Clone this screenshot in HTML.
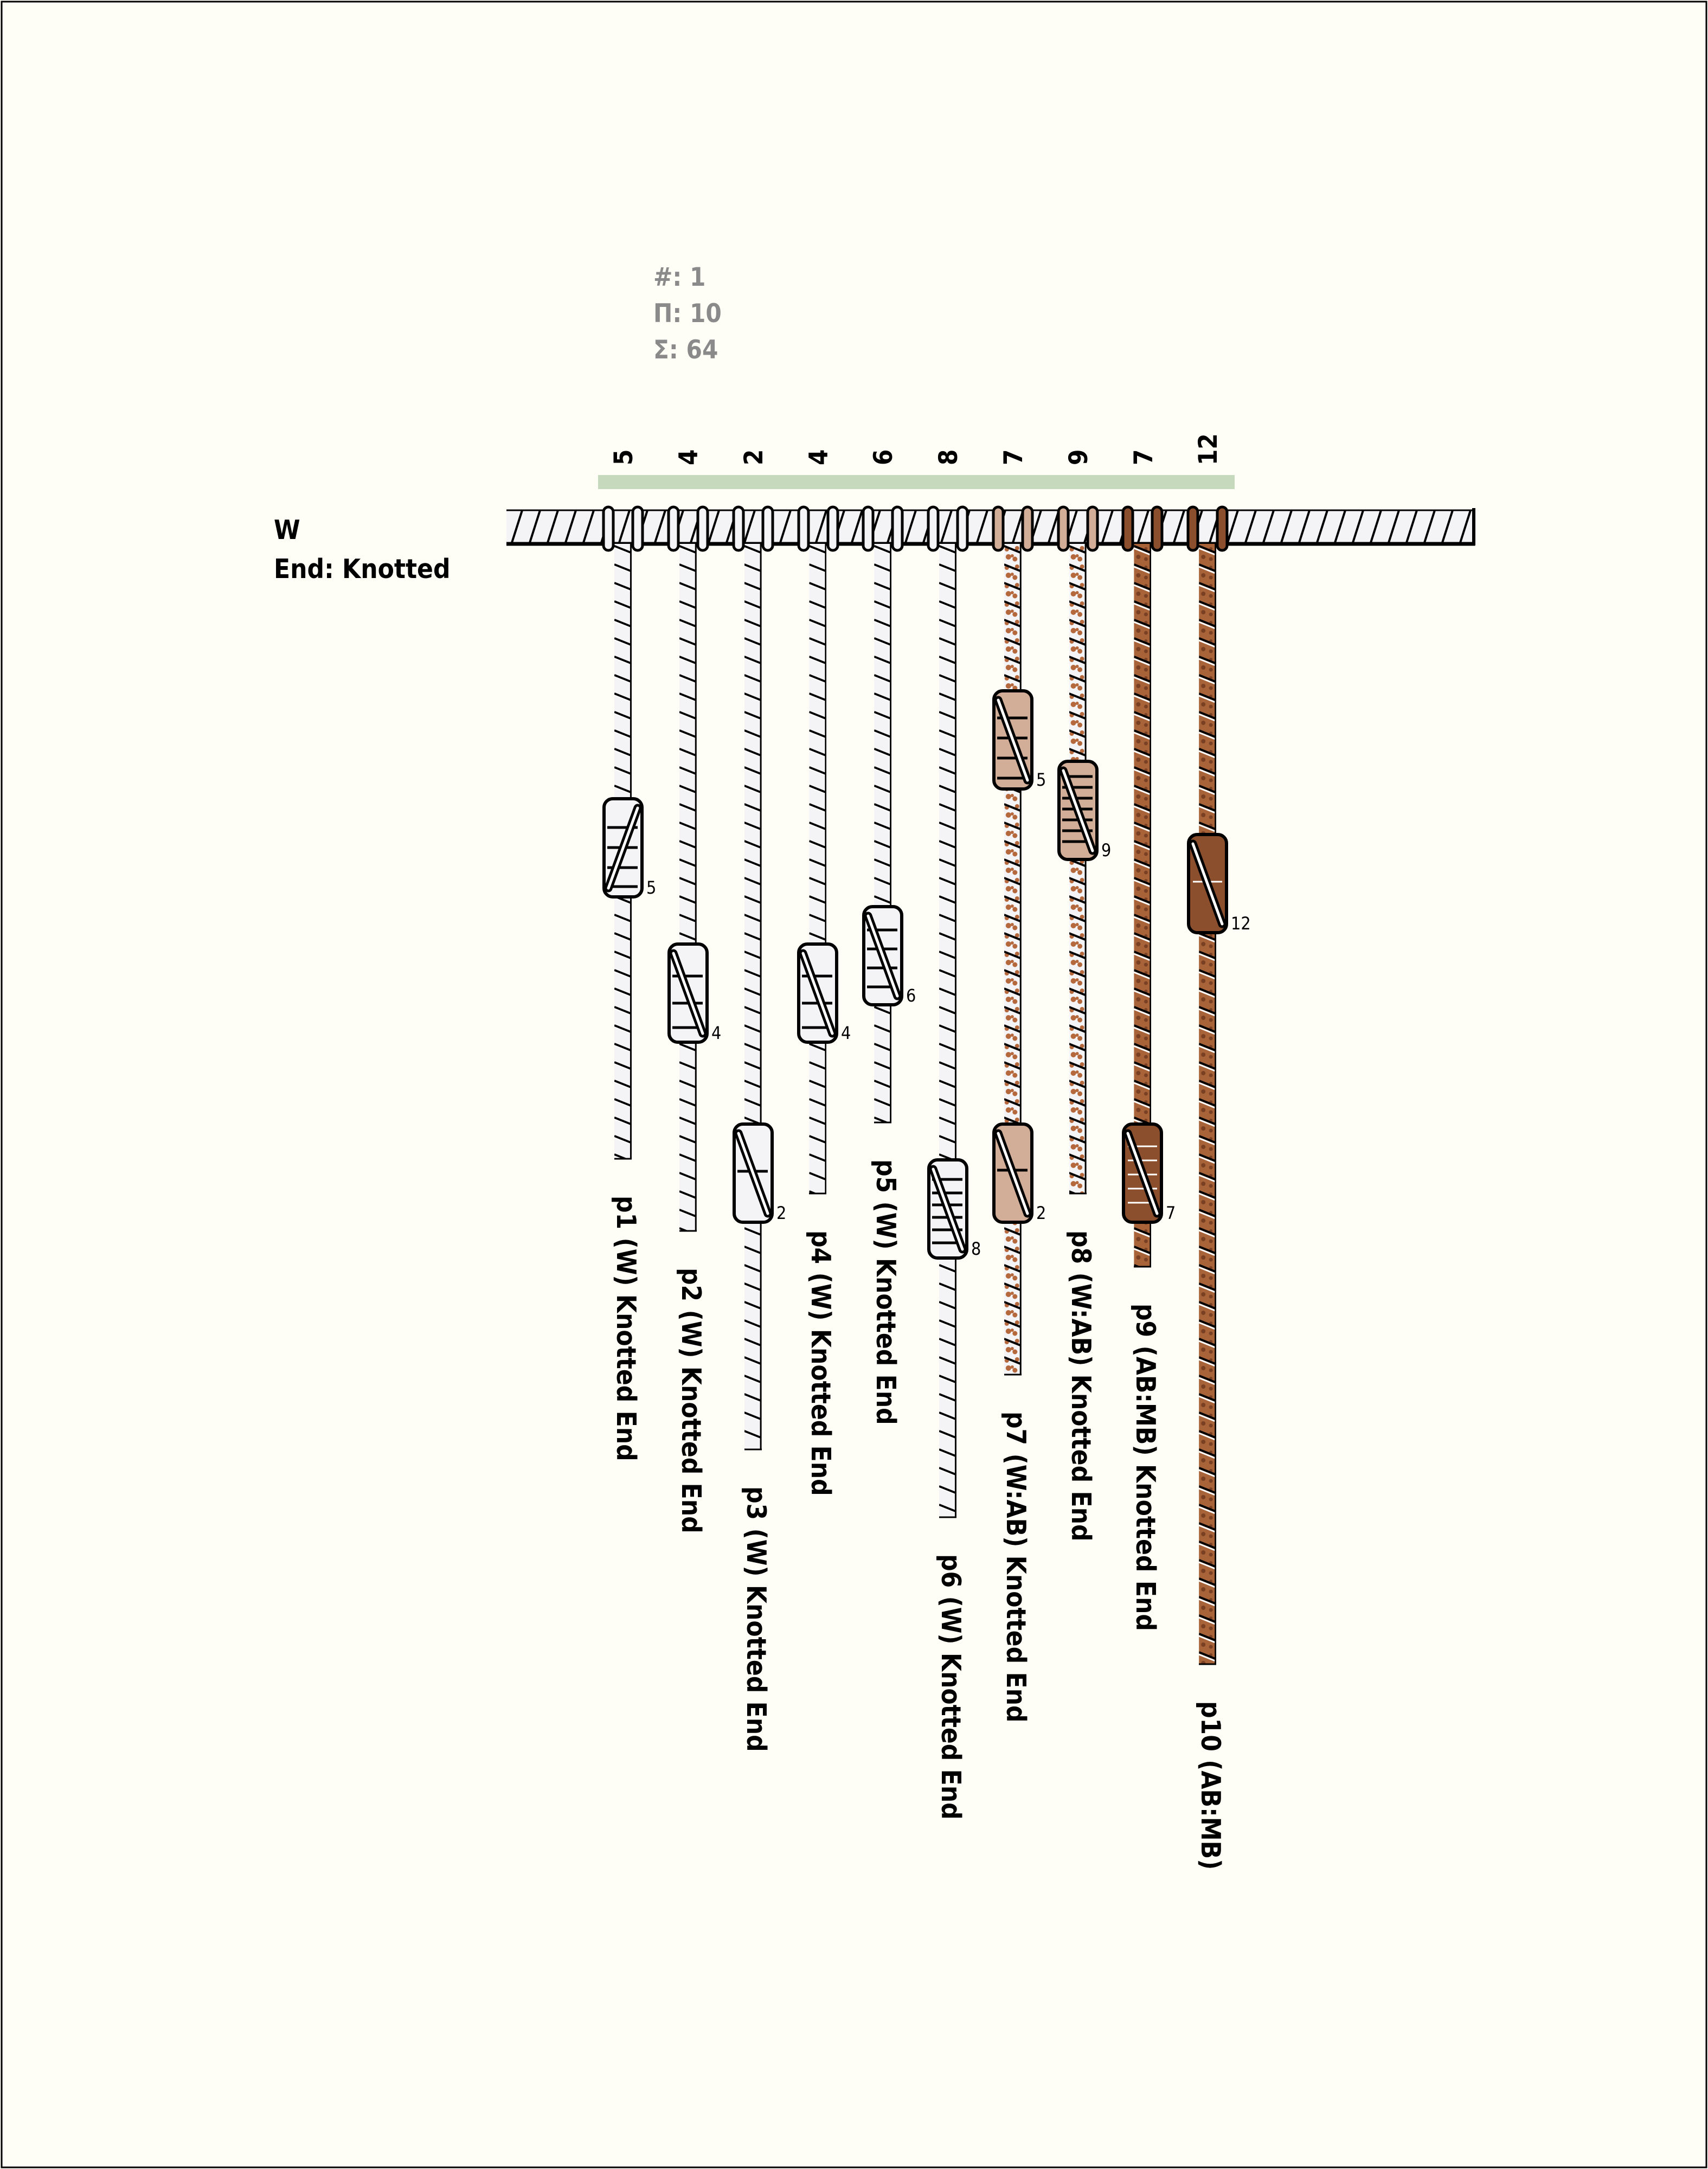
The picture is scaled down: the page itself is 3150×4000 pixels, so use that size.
<!DOCTYPE html>
<html><head><meta charset="utf-8"><style>
html,body{margin:0;padding:0;background:#fefef6}
svg{display:block}
text{font-family:"DejaVu Sans Condensed","DejaVu Sans","Liberation Sans",sans-serif}
</style></head><body>
<svg width="3150" height="4000" viewBox="0 0 3150 4000" xmlns="http://www.w3.org/2000/svg">
<defs>
<pattern id="bar" patternUnits="userSpaceOnUse" x="934" y="940" width="33" height="65">
<rect width="33" height="65" fill="#f4f4f6"/>
<line x1="30" y1="-2" x2="8" y2="67" stroke="#000" stroke-width="4"/>
<line x1="63" y1="-2" x2="41" y2="67" stroke="#000" stroke-width="4"/>
</pattern>
<pattern id="pw" patternUnits="userSpaceOnUse" x="1133" y="1003" width="119.8" height="34">
<rect width="32" height="34" fill="#f4f4f6"/>
<line x1="0" y1="4" x2="30" y2="16" stroke="#000" stroke-width="4"/>
<line x1="0" y1="7" x2="30" y2="19" stroke="#fff" stroke-width="2"/>
<rect x="29" width="3" height="34" fill="#000"/>
</pattern>
<pattern id="pwab" patternUnits="userSpaceOnUse" x="1133" y="1003" width="119.8" height="34">
<rect width="32" height="34" fill="#f4f4f6"/>
<circle cx="8" cy="24" r="5" fill="#b5683c"/><circle cx="20" cy="28" r="4.5" fill="#b5683c"/><circle cx="24" cy="8" r="4" fill="#b5683c"/><circle cx="5" cy="10" r="4" fill="#b5683c"/><circle cx="15" cy="22" r="3" fill="#b5683c"/>
<line x1="0" y1="4" x2="30" y2="16" stroke="#000" stroke-width="4"/>
<rect x="29" width="3" height="34" fill="#000"/>
</pattern>
<pattern id="pab" patternUnits="userSpaceOnUse" x="1133" y="1003" width="119.8" height="34">
<rect width="32" height="34" fill="#a86339"/>
<circle cx="8" cy="24" r="4" fill="#7a4024"/><circle cx="22" cy="28" r="3.5" fill="#7a4024"/><circle cx="22" cy="9" r="3" fill="#7a4024"/>
<line x1="0" y1="4" x2="30" y2="16" stroke="#000" stroke-width="4"/>
<line x1="0" y1="8" x2="30" y2="20" stroke="#fff" stroke-width="3"/>
<rect x="29" width="3" height="34" fill="#000"/>
</pattern>
</defs>
<rect x="0" y="0" width="3150" height="4000" fill="#fefef6"/>
<rect x="3" y="3" width="3144" height="3994" fill="none" stroke="#000" stroke-width="3"/>

<g font-weight="bold" font-size="47" fill="#8a8a8a">
<text x="1205" y="527">#: 1</text>
<text x="1205" y="594">Π: 10</text>
<text x="1205" y="661">Σ: 64</text>
</g>
<g font-weight="bold" font-size="49" fill="#000">
<text x="505" y="994">W</text>
<text x="505" y="1066">End: Knotted</text>
</g>

<rect x="1103" y="876" width="1174" height="26" fill="#c6d9bc"/>
<g font-size="47" fill="#000" font-weight="bold">
<text transform="translate(1166,858) rotate(-90)">5</text>
<text transform="translate(1286,858) rotate(-90)">4</text>
<text transform="translate(1406,858) rotate(-90)">2</text>
<text transform="translate(1526,858) rotate(-90)">4</text>
<text transform="translate(1645,858) rotate(-90)">6</text>
<text transform="translate(1765,858) rotate(-90)">8</text>
<text transform="translate(1885,858) rotate(-90)">7</text>
<text transform="translate(2005,858) rotate(-90)">9</text>
<text transform="translate(2125,858) rotate(-90)">7</text>
<text transform="translate(2244,858) rotate(-90)">12</text>
</g>

<rect x="934" y="940" width="1784" height="65" fill="url(#bar)"/>
<line x1="934" y1="941" x2="2718" y2="941" stroke="#000" stroke-width="3"/>
<line x1="934" y1="1003" x2="2720" y2="1003" stroke="#000" stroke-width="7"/>
<line x1="2718" y1="937" x2="2718" y2="1006" stroke="#000" stroke-width="6"/>

<rect x="1133" y="1003" width="32" height="1134" fill="url(#pw)"/>
<rect x="1253" y="1003" width="32" height="1267" fill="url(#pw)"/>
<rect x="1373" y="1003" width="32" height="1670" fill="url(#pw)"/>
<rect x="1492" y="1003" width="32" height="1198" fill="url(#pw)"/>
<rect x="1612" y="1003" width="32" height="1067" fill="url(#pw)"/>
<rect x="1732" y="1003" width="32" height="1795" fill="url(#pw)"/>
<rect x="1852" y="1003" width="32" height="1532" fill="url(#pwab)"/>
<rect x="1972" y="1003" width="32" height="1198" fill="url(#pwab)"/>
<rect x="2091" y="1003" width="32" height="1333" fill="url(#pab)"/>
<rect x="2211" y="1003" width="32" height="2066" fill="url(#pab)"/>
<g stroke="#000" stroke-width="3">
<line x1="1133" y1="2137" x2="1165" y2="2137"/><line x1="1253" y1="2270" x2="1285" y2="2270"/>
<line x1="1373" y1="2673" x2="1405" y2="2673"/><line x1="1492" y1="2201" x2="1524" y2="2201"/>
<line x1="1612" y1="2070" x2="1644" y2="2070"/><line x1="1732" y1="2798" x2="1764" y2="2798"/>
<line x1="1852" y1="2535" x2="1884" y2="2535"/><line x1="1972" y1="2201" x2="2004" y2="2201"/>
<line x1="2091" y1="2336" x2="2123" y2="2336"/><line x1="2211" y1="3069" x2="2243" y2="3069"/>
</g>

<g stroke="#000" stroke-width="5">
<g fill="#f4f4f6">
<rect x="1113" y="935" width="18" height="80" rx="9"/><rect x="1167" y="935" width="18" height="80" rx="9"/>
<rect x="1233" y="935" width="18" height="80" rx="9"/><rect x="1287" y="935" width="18" height="80" rx="9"/>
<rect x="1353" y="935" width="18" height="80" rx="9"/><rect x="1407" y="935" width="18" height="80" rx="9"/>
<rect x="1473" y="935" width="18" height="80" rx="9"/><rect x="1527" y="935" width="18" height="80" rx="9"/>
<rect x="1592" y="935" width="18" height="80" rx="9"/><rect x="1646" y="935" width="18" height="80" rx="9"/>
<rect x="1712" y="935" width="18" height="80" rx="9"/><rect x="1766" y="935" width="18" height="80" rx="9"/>
</g>
<g fill="#d2ae98">
<rect x="1832" y="935" width="18" height="80" rx="9"/><rect x="1886" y="935" width="18" height="80" rx="9"/>
<rect x="1952" y="935" width="18" height="80" rx="9"/><rect x="2006" y="935" width="18" height="80" rx="9"/>
</g>
<g fill="#8b4f2d">
<rect x="2071" y="935" width="18" height="80" rx="9"/><rect x="2125" y="935" width="18" height="80" rx="9"/>
<rect x="2191" y="935" width="18" height="80" rx="9"/><rect x="2245" y="935" width="18" height="80" rx="9"/>
</g>
</g>

<g stroke="#000">
<rect x="1114" y="1473" width="70" height="181" rx="16" fill="#f4f4f6" stroke-width="6"/>
<g stroke-width="5"><line x1="1120" y1="1526" x2="1176" y2="1526"/><line x1="1120" y1="1563" x2="1176" y2="1563"/><line x1="1120" y1="1600" x2="1176" y2="1600"/><line x1="1120" y1="1635" x2="1176" y2="1635"/></g>
<line x1="1122" y1="1638" x2="1176" y2="1490" stroke-width="15" stroke-linecap="round"/>
<line x1="1122" y1="1638" x2="1176" y2="1490" stroke="#fff" stroke-width="5" stroke-linecap="round"/>
<rect x="1234" y="1741" width="70" height="181" rx="16" fill="#f4f4f6" stroke-width="6"/>
<g stroke-width="5"><line x1="1240" y1="1800" x2="1296" y2="1800"/><line x1="1240" y1="1850" x2="1296" y2="1850"/><line x1="1240" y1="1895" x2="1296" y2="1895"/></g>
<line x1="1242" y1="1758" x2="1296" y2="1906" stroke-width="15" stroke-linecap="round"/>
<line x1="1242" y1="1758" x2="1296" y2="1906" stroke="#fff" stroke-width="5" stroke-linecap="round"/>
<rect x="1354" y="2073" width="70" height="181" rx="16" fill="#f4f4f6" stroke-width="6"/>
<g stroke-width="5"><line x1="1360" y1="2160" x2="1416" y2="2160"/></g>
<line x1="1362" y1="2090" x2="1416" y2="2238" stroke-width="15" stroke-linecap="round"/>
<line x1="1362" y1="2090" x2="1416" y2="2238" stroke="#fff" stroke-width="5" stroke-linecap="round"/>
<rect x="1473" y="1741" width="70" height="181" rx="16" fill="#f4f4f6" stroke-width="6"/>
<g stroke-width="5"><line x1="1479" y1="1800" x2="1535" y2="1800"/><line x1="1479" y1="1850" x2="1535" y2="1850"/><line x1="1479" y1="1895" x2="1535" y2="1895"/></g>
<line x1="1481" y1="1758" x2="1535" y2="1906" stroke-width="15" stroke-linecap="round"/>
<line x1="1481" y1="1758" x2="1535" y2="1906" stroke="#fff" stroke-width="5" stroke-linecap="round"/>
<rect x="1593" y="1672" width="70" height="181" rx="16" fill="#f4f4f6" stroke-width="6"/>
<g stroke-width="5"><line x1="1599" y1="1715" x2="1655" y2="1715"/><line x1="1599" y1="1750" x2="1655" y2="1750"/><line x1="1599" y1="1785" x2="1655" y2="1785"/><line x1="1599" y1="1820" x2="1655" y2="1820"/></g>
<line x1="1601" y1="1689" x2="1655" y2="1837" stroke-width="15" stroke-linecap="round"/>
<line x1="1601" y1="1689" x2="1655" y2="1837" stroke="#fff" stroke-width="5" stroke-linecap="round"/>
<rect x="1713" y="2139" width="70" height="181" rx="16" fill="#f4f4f6" stroke-width="6"/>
<g stroke-width="5"><line x1="1719" y1="2175" x2="1775" y2="2175"/><line x1="1719" y1="2200" x2="1775" y2="2200"/><line x1="1719" y1="2222" x2="1775" y2="2222"/><line x1="1719" y1="2245" x2="1775" y2="2245"/><line x1="1719" y1="2268" x2="1775" y2="2268"/><line x1="1719" y1="2292" x2="1775" y2="2292"/></g>
<line x1="1721" y1="2156" x2="1775" y2="2304" stroke-width="15" stroke-linecap="round"/>
<line x1="1721" y1="2156" x2="1775" y2="2304" stroke="#fff" stroke-width="5" stroke-linecap="round"/>
<rect x="1833" y="1274" width="70" height="181" rx="16" fill="#d2ae98" stroke-width="6"/>
<g stroke-width="5"><line x1="1839" y1="1324" x2="1895" y2="1324"/><line x1="1839" y1="1361" x2="1895" y2="1361"/><line x1="1839" y1="1398" x2="1895" y2="1398"/><line x1="1839" y1="1435" x2="1895" y2="1435"/></g>
<line x1="1841" y1="1291" x2="1895" y2="1439" stroke-width="15" stroke-linecap="round"/>
<line x1="1841" y1="1291" x2="1895" y2="1439" stroke="#fff" stroke-width="5" stroke-linecap="round"/>
<rect x="1833" y="2073" width="70" height="181" rx="16" fill="#d2ae98" stroke-width="6"/>
<g stroke-width="5"><line x1="1839" y1="2158" x2="1895" y2="2158"/></g>
<line x1="1841" y1="2090" x2="1895" y2="2238" stroke-width="15" stroke-linecap="round"/>
<line x1="1841" y1="2090" x2="1895" y2="2238" stroke="#fff" stroke-width="5" stroke-linecap="round"/>
<rect x="1953" y="1404" width="70" height="181" rx="16" fill="#d2ae98" stroke-width="6"/>
<g stroke-width="5"><line x1="1959" y1="1432" x2="2015" y2="1432"/><line x1="1959" y1="1452" x2="2015" y2="1452"/><line x1="1959" y1="1472" x2="2015" y2="1472"/><line x1="1959" y1="1492" x2="2015" y2="1492"/><line x1="1959" y1="1512" x2="2015" y2="1512"/><line x1="1959" y1="1532" x2="2015" y2="1532"/><line x1="1959" y1="1552" x2="2015" y2="1552"/></g>
<line x1="1961" y1="1421" x2="2015" y2="1569" stroke-width="15" stroke-linecap="round"/>
<line x1="1961" y1="1421" x2="2015" y2="1569" stroke="#fff" stroke-width="5" stroke-linecap="round"/>
<rect x="2072" y="2073" width="70" height="181" rx="16" fill="#8b4f2d" stroke-width="6"/>
<g stroke="#fff" stroke-width="3"><line x1="2080" y1="2114" x2="2134" y2="2114"/><line x1="2080" y1="2140" x2="2134" y2="2140"/><line x1="2080" y1="2166" x2="2134" y2="2166"/><line x1="2080" y1="2192" x2="2134" y2="2192"/><line x1="2080" y1="2218" x2="2134" y2="2218"/></g>
<line x1="2080" y1="2090" x2="2134" y2="2238" stroke-width="15" stroke-linecap="round"/>
<line x1="2080" y1="2090" x2="2134" y2="2238" stroke="#fff" stroke-width="5" stroke-linecap="round"/>
<rect x="2192" y="1539" width="70" height="181" rx="16" fill="#8b4f2d" stroke-width="6"/>
<g stroke="#fff" stroke-width="3"><line x1="2200" y1="1626" x2="2254" y2="1626"/></g>
<line x1="2200" y1="1556" x2="2254" y2="1704" stroke-width="15" stroke-linecap="round"/>
<line x1="2200" y1="1556" x2="2254" y2="1704" stroke="#fff" stroke-width="5" stroke-linecap="round"/>
</g>

<g font-size="32" fill="#000">
<text x="1192" y="1648">5</text>
<text x="1312" y="1916">4</text>
<text x="1432" y="2248">2</text>
<text x="1551" y="1916">4</text>
<text x="1671" y="1847">6</text>
<text x="1791" y="2314">8</text>
<text x="1911" y="1449">5</text>
<text x="1911" y="2248">2</text>
<text x="2031" y="1579">9</text>
<text x="2150" y="2248">7</text>
<text x="2270" y="1714">12</text>
</g>

<g font-size="49" font-weight="bold" fill="#000">
<text transform="translate(1138,2205) rotate(90)">p1 (W) Knotted End</text>
<text transform="translate(1258,2338) rotate(90)">p2 (W) Knotted End</text>
<text transform="translate(1378,2741) rotate(90)">p3 (W) Knotted End</text>
<text transform="translate(1497,2269) rotate(90)">p4 (W) Knotted End</text>
<text transform="translate(1617,2138) rotate(90)">p5 (W) Knotted End</text>
<text transform="translate(1737,2866) rotate(90)">p6 (W) Knotted End</text>
<text transform="translate(1857,2603) rotate(90)">p7 (W:AB) Knotted End</text>
<text transform="translate(1977,2269) rotate(90)">p8 (W:AB) Knotted End</text>
<text transform="translate(2096,2404) rotate(90)">p9 (AB:MB) Knotted End</text>
<text transform="translate(2216,3137) rotate(90)">p10 (AB:MB)</text>
</g>
</svg>
</body></html>
